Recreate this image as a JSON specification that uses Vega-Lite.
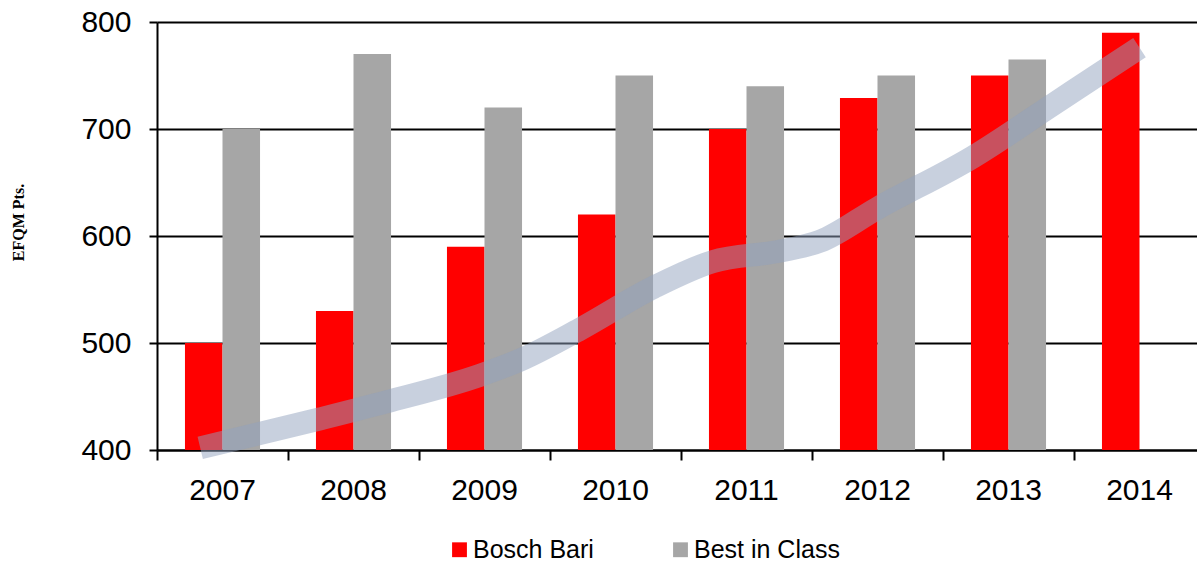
{
  "$schema": "https://vega.github.io/schema/vega-lite/v6.json",
  "autosize": {"type": "none"},
  "padding": {"left": 157, "top": 22, "right": 0, "bottom": 115},
  "width": 1040,
  "height": 428,
  "background": "white",
  "config": {
    "view": {"stroke": null},
    "font": "Liberation Sans"
  },
  "encoding": {
    "y": {
      "field": "value",
      "type": "quantitative",
      "scale": {"domain": [400, 800], "nice": false, "zero": false},
      "axis": {
        "values": [400, 500, 600, 700, 800],
        "title": "EFQM Pts.",
        "titleFont": "Liberation Serif",
        "titleFontWeight": "bold",
        "titleFontSize": 16,
        "titleColor": "black",
        "titleAngle": -90,
        "titleX": -139,
        "titleY": 200,
        "titleAlign": "center",
        "titleBaseline": "middle",
        "labelFont": "Liberation Sans",
        "labelFontSize": 30,
        "labelColor": "black",
        "labelPadding": 18,
        "tickSize": 8,
        "tickColor": "black",
        "tickWidth": 2,
        "domainColor": "black",
        "domainWidth": 2,
        "grid": true,
        "gridColor": "black",
        "gridWidth": 2
      }
    }
  },
  "layer": [
    {
      "data": {
        "values": [
          {"year": "2007", "series": "Bosch Bari", "value": 500},
          {"year": "2007", "series": "Best in Class", "value": 700},
          {"year": "2008", "series": "Bosch Bari", "value": 530},
          {"year": "2008", "series": "Best in Class", "value": 770},
          {"year": "2009", "series": "Bosch Bari", "value": 590},
          {"year": "2009", "series": "Best in Class", "value": 720},
          {"year": "2010", "series": "Bosch Bari", "value": 620},
          {"year": "2010", "series": "Best in Class", "value": 750},
          {"year": "2011", "series": "Bosch Bari", "value": 700},
          {"year": "2011", "series": "Best in Class", "value": 740},
          {"year": "2012", "series": "Bosch Bari", "value": 729},
          {"year": "2012", "series": "Best in Class", "value": 750},
          {"year": "2013", "series": "Bosch Bari", "value": 750},
          {"year": "2013", "series": "Best in Class", "value": 765},
          {"year": "2014", "series": "Bosch Bari", "value": 790}
        ]
      },
      "mark": {"type": "bar"},
      "encoding": {
        "x": {
          "field": "year",
          "type": "nominal",
          "scale": {"range": [0, 1048], "paddingInner": 0.427, "paddingOuter": 0.2135},
          "axis": {
            "title": null,
            "labelAngle": 0,
            "labelFont": "Liberation Sans",
            "labelFontSize": 30,
            "labelColor": "black",
            "labelPadding": 25,
            "ticks": false,
            "tickSize": 0,
            "domainColor": "black",
            "domainWidth": 2,
            "grid": false
          }
        },
        "xOffset": {
          "field": "series",
          "type": "nominal",
          "scale": {"domain": ["Bosch Bari", "Best in Class"], "paddingInner": 0, "paddingOuter": 0}
        },
        "y2": {"datum": 400},
        "color": {
          "field": "series",
          "type": "nominal",
          "scale": {"domain": ["Bosch Bari", "Best in Class"], "range": ["#ff0000", "#a6a6a6"]},
          "legend": {
            "title": null,
            "orient": "none",
            "legendX": 290,
            "legendY": 515,
            "direction": "horizontal",
            "symbolType": "square",
            "symbolSize": 220,
            "symbolStrokeWidth": 0,
            "labelFont": "Liberation Sans",
            "labelFontSize": 25,
            "labelColor": "black",
            "labelOffset": 1,
            "columnPadding": 74
          }
        }
      }
    },
    {
      "data": {
        "values": [
          {"yr": 2006.83, "value": 402},
          {"yr": 2007.74, "value": 429},
          {"yr": 2008.25, "value": 445},
          {"yr": 2008.97, "value": 470},
          {"yr": 2009.27, "value": 484},
          {"yr": 2009.73, "value": 513},
          {"yr": 2010.29, "value": 552},
          {"yr": 2010.74, "value": 576},
          {"yr": 2011.26, "value": 586},
          {"yr": 2011.56, "value": 595},
          {"yr": 2012.0, "value": 626},
          {"yr": 2012.73, "value": 674},
          {"yr": 2013.28, "value": 718},
          {"yr": 2013.7, "value": 752},
          {"yr": 2014.0, "value": 776}
        ]
      },
      "mark": {"type": "line", "interpolate": "monotone", "strokeWidth": 23, "color": "#92a2be", "opacity": 0.5, "strokeCap": "butt"},
      "encoding": {
        "x": {
          "field": "yr",
          "type": "quantitative",
          "scale": {"domain": [2006.5, 2014.5], "range": [0, 1048], "nice": false, "zero": false},
          "axis": {
            "orient": "bottom",
            "values": [2006.5, 2007.5, 2008.5, 2009.5, 2010.5, 2011.5, 2012.5, 2013.5],
            "labels": false,
            "domain": false,
            "grid": false,
            "ticks": true,
            "tickSize": 10,
            "tickColor": "black",
            "tickWidth": 2,
            "title": null
          }
        }
      }
    }
  ],
  "resolve": {"scale": {"x": "independent"}, "axis": {"x": "independent"}}
}
